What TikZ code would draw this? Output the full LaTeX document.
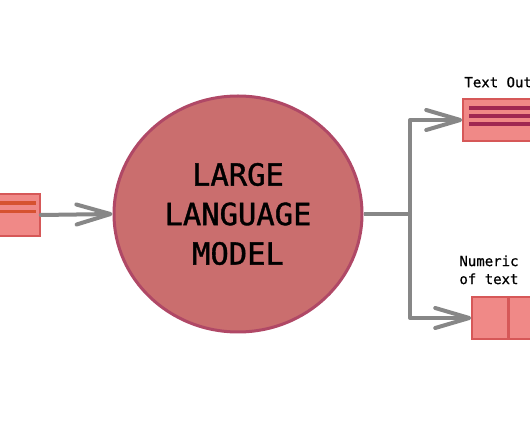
\documentclass[tikz,border=0pt]{standalone}
\usepackage{fontspec}
\setmonofont{DejaVu Sans Mono}
\usepackage{xcolor}
\usetikzlibrary{arrows.meta,positioning,calc,shapes.geometric}
\definecolor{modelred}{RGB}{202,110,110}
\definecolor{modeledge}{RGB}{176,72,102}
\definecolor{boxfill}{RGB}{240,137,135}
\definecolor{boxedge}{RGB}{214,88,88}
\definecolor{inline}{RGB}{214,82,48}
\definecolor{outline}{RGB}{160,40,82}
\definecolor{wiregray}{RGB}{135,135,135}

\begin{document}
\begin{tikzpicture}[
    x=1pt, y=1pt,
    model/.style={ellipse, draw=modeledge, line width=3pt, fill=modelred,
        minimum width=248pt, minimum height=236pt, inner sep=0pt, align=center,
        font=\ttfamily\addfontfeature{FakeBold=1.2}\fontsize{30.5}{39.5}\selectfont},
    iobox/.style={rectangle, draw=boxedge, line width=1.5pt, fill=boxfill,
        minimum height=42pt, inner sep=0pt},
    lbl/.style={font=\ttfamily\addfontfeature{FakeBold=0.8}\fontsize{14}{18}\selectfont,
        inner sep=0pt, align=left},
    stripe/.style={line width=3.5pt},
    arr/.style={draw=wiregray, line width=4pt, line cap=round, line join=round,
        -{Straight Barb[length=34pt, width=20pt, round]}}
]
\path[use as bounding box, fill=white] (0,0) rectangle (530,442);

\node[model] (llm) at (238,228) {LARGE\\LANGUAGE\\MODEL};
\node[iobox, minimum width=70pt] (inbox) at (5,227) {};
\node[iobox, minimum width=110pt] (txtbox) at (518,322) {};
\node[iobox, minimum width=80pt] (numbox) at (512,124) {};

% stripes inside the boxes
\foreach \dy in {12,3.5}
    \draw[stripe, inline] ($(inbox.west)+(0,\dy)$) -- ($(inbox.east)+(-5,\dy)$);
\foreach \dy in {12,4,-4}
    \draw[stripe, outline] ($(txtbox.west)+(7,\dy)$) -- ($(txtbox.east)+(0,\dy)$);
\draw[boxedge, line width=2.5pt] ($(numbox.north west)+(37,0)$) -- ($(numbox.south west)+(37,0)$);

% labels
\node[lbl, anchor=base west] (txtlbl) at ($(txtbox.north west)+(2,11)$) {Text Output};
\node[lbl, anchor=south west, text depth=0pt] (numlbl) at ($(numbox.north west)+(-12,12)$) {Numeric\\of text};

% connectors
\coordinate (split) at (410,228);
\draw[arr] (inbox.east) -- (llm.west);
\draw[draw=wiregray, line width=4pt] (llm.east) -- (split);
\draw[arr] (split) |- (txtbox.west);
\draw[arr] (split) |- (numbox.west);
\end{tikzpicture}
\end{document}
